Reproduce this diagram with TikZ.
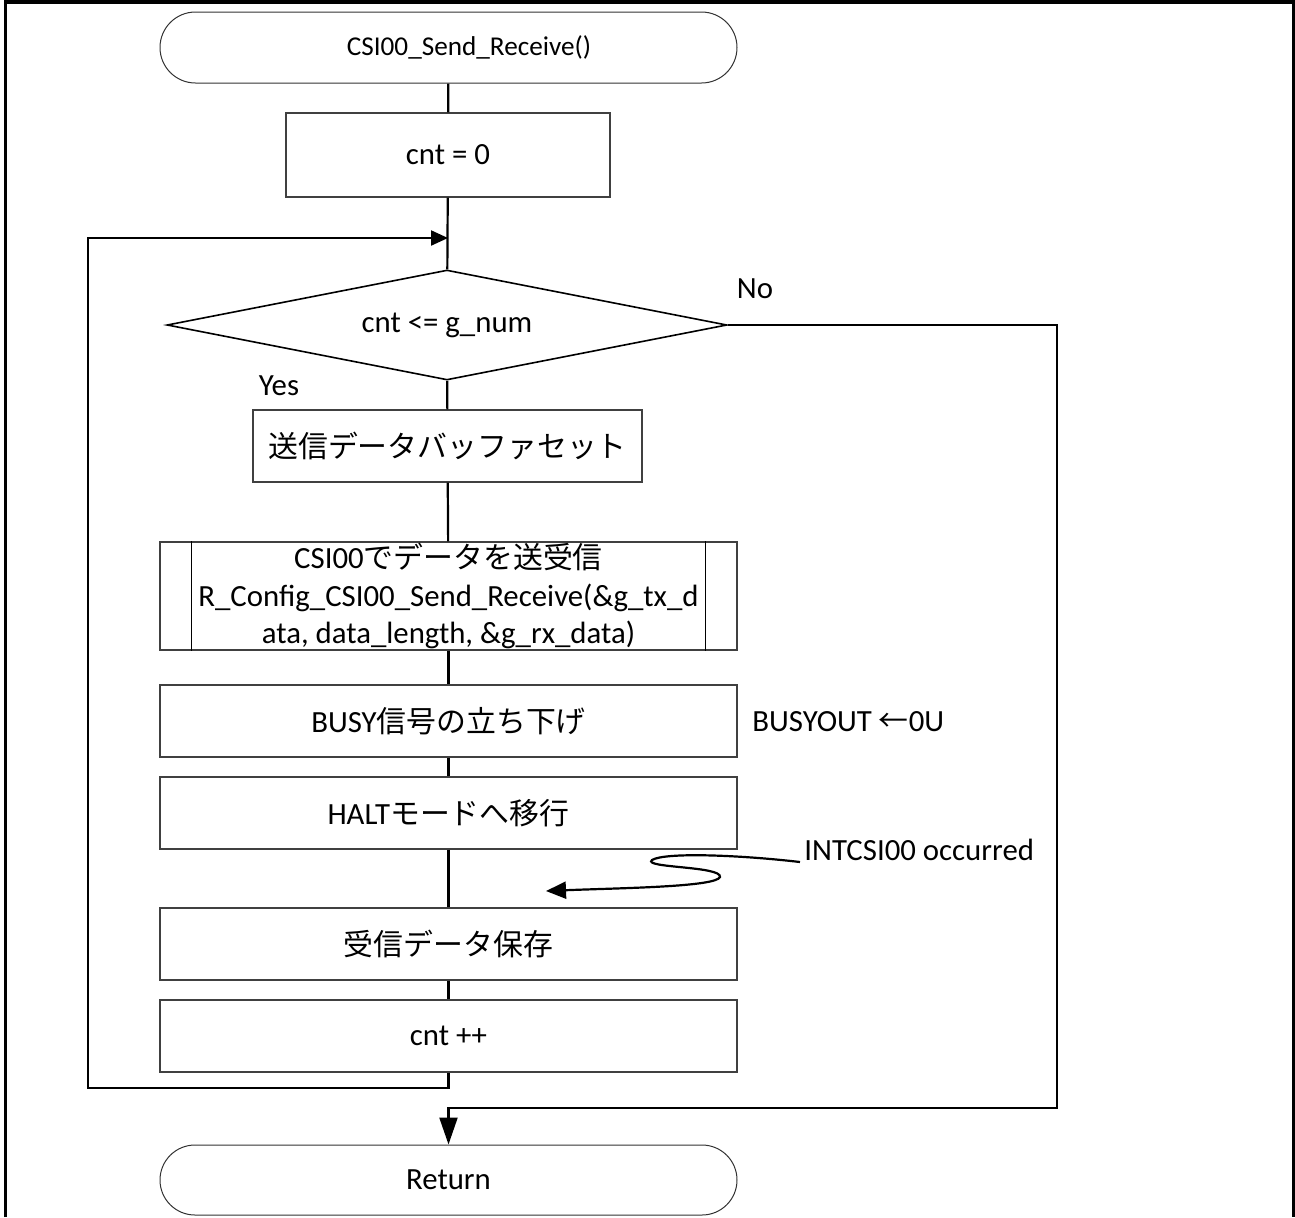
\documentclass[tikz,border=0pt]{standalone}
\usepackage{fontspec}
\setmainfont{Carlito}
\newfontfamily\jp{Noto Sans CJK JP}[Scale=0.97]
\usetikzlibrary{shapes.geometric,shapes.misc,arrows.meta}

\tikzset{
	every node/.style={font=\fontsize{15.4}{18.75}\selectfont, inner sep=0pt},
	term/.style={draw=black!80, line width=0.5pt, rounded rectangle, minimum width=288.5pt},
	proc/.style={draw=black!75, line width=0.6pt, rectangle, minimum width=288.5pt, minimum height=36pt},
	cond/.style={draw=black, line width=0.8pt, diamond, aspect=5, minimum width=280pt, minimum height=55pt},
	line/.style={draw, line width=1.1pt},
	flow/.style={line, -{Triangle[length=8.5pt,width=7.5pt]}}
}

\begin{document}
\begin{tikzpicture}[x=0.5pt,y=-0.5pt]
	\useasboundingbox (0,0) rectangle (1295,1217);
	\draw[line width=1.6pt] (5.5,1217) -- (5.5,2) -- (1293.5,2) -- (1293.5,1217);

	\node[term, minimum height=35.5pt] at (448.5,47.5) (start) {};
	\node[font=\fontsize{13.6}{16}\selectfont] at (469,47.5) (title) {CSI00\_Send\_Receive()};
	\node[proc, minimum width=162pt, minimum height=42pt] at (448,155) (init) {cnt = 0};
	\node[cond] at (447,325) (check) {cnt <= g\_num};
	\node[proc, minimum width=194.5pt] at (447.5,446) (setbuf) {\jp 送信データバッファセット};
	\node[proc, minimum height=54pt, align=center] at (448.5,596) (sendrecv) {CSI00{\jp でデータを送受信}\\R\_Config\_CSI00\_Send\_Receive(\&g\_tx\_d\\ata, data\_length, \&g\_rx\_data)};
	\draw[line width=0.6pt] ([xshift=16pt]sendrecv.north west) -- ([xshift=16pt]sendrecv.south west);
	\draw[line width=0.6pt] ([xshift=-16pt]sendrecv.north east) -- ([xshift=-16pt]sendrecv.south east);
	\node[proc] at (448.5,721) (busy) {BUSY{\jp 信号の立ち下げ}};
	\node[proc] at (448.5,813) (halt) {HALT{\jp モードへ移行}};
	\node[proc] at (448.5,944) (save) {\jp 受信データ保存};
	\node[proc] at (448.5,1036) (inc) {cnt ++};
	\node[term, minimum height=35pt] at (448.5,1180) (ret) {Return};

	\node at (755,289) (no) {No};
	\node at (279,386) (yes) {Yes};
	\node[anchor=west] at (752,722) (busyout) {BUSYOUT {\jp ←}0U};
	\node[anchor=west] at (804,850) (intcsi) {INTCSI00 occurred};

	\coordinate (back) at (448,238);
	\coordinate (lb) at (88,1088);
	\coordinate (nr) at (1057,1108);
	\coordinate (intsrc) at (800,862);
	\coordinate (inttip) at (546,891);

	\draw[line] (start) -- (init);
	\draw[line] (init) -- (check);
	\draw[line] (check) -- (setbuf);
	\draw[line] (setbuf) -- (sendrecv);
	\draw[line] (sendrecv) -- (busy);
	\draw[line] (busy) -- (halt);
	\draw[line] (halt) -- (save);
	\draw[line] (save) -- (inc);
	\draw[flow] (inc.south) |- (lb) |- (back);
	\draw[line, -{Triangle[length=13.5pt,width=9pt]}] (check.east) -| (nr) -| (ret.north);
	\draw[line, -{Triangle[length=10pt,width=8.5pt]}] (intsrc) .. controls (740,855) and (665,852) .. (652,860)
		.. controls (642,868) and (722,866) .. (720,877)
		.. controls (716,887) and (620,888) .. (inttip);
\end{tikzpicture}
\end{document}
